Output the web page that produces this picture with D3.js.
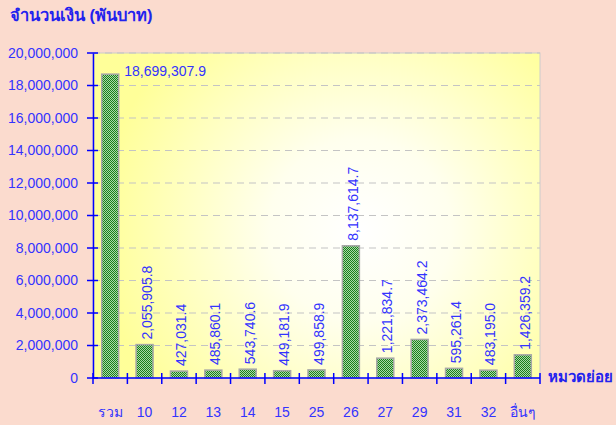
<!DOCTYPE html>
<html><head><meta charset="utf-8">
<script src="https://cdn.jsdelivr.net/npm/d3@7"></script>
<style>
html,body{margin:0;padding:0;background:#fbdbce;}
svg{display:block;}
text{font-family:"Liberation Sans","Noto Sans",Tahoma,sans-serif;}
</style></head><body>
<svg id="c" width="616" height="425"></svg>
<script>
const categories = ["รวม","10","12","13","14","15","25","26","27","29","31","32","อื่นๆ"];
const values = [18699307.9,2055905.8,427031.4,485860.1,543740.6,449181.9,499858.9,8137614.7,1221834.7,2373464.2,595261.4,483195.0,1426359.2];
const labels = ["18,699,307.9","2,055,905.8","427,031.4","485,860.1","543,740.6","449,181.9","499,858.9","8,137,614.7","1,221,834.7","2,373,464.2","595,261.4","483,195.0","1,426,359.2"];
const yTicks = [0,2000000,4000000,6000000,8000000,10000000,12000000,14000000,16000000,18000000,20000000];
const title = "จำนวนเงิน (พันบาท)";
const xTitle = "หมวดย่อย";

const svg = d3.select("#c");
const L = 93, R = 540, T = 53, B = 378;
const blue = "#3333ff";

const xb = d3.scaleBand().domain(categories).range([L, R]);
const y = d3.scaleLinear().domain([0, 20000000]).range([B, T]);

const defs = svg.append("defs");
const rg = defs.append("radialGradient").attr("id","bg").attr("gradientUnits","userSpaceOnUse")
  .attr("cx", 360).attr("cy", 230).attr("r", 260);
rg.append("stop").attr("offset","0%").attr("stop-color","#ffffff");
rg.append("stop").attr("offset","35%").attr("stop-color","#ffffee");
rg.append("stop").attr("offset","100%").attr("stop-color","#ffff99");
const pat = defs.append("pattern").attr("id","chk").attr("patternUnits","userSpaceOnUse").attr("width",2).attr("height",2);
pat.append("rect").attr("width",2).attr("height",2).attr("fill","#a8d8a8");
pat.append("rect").attr("width",1).attr("height",1).attr("fill","#1a801a");
pat.append("rect").attr("x",1).attr("y",1).attr("width",1).attr("height",1).attr("fill","#1a801a");

svg.append("rect").attr("x",L).attr("y",T).attr("width",R-L).attr("height",B-T)
  .attr("fill","url(#bg)").attr("stroke","#cccccc").attr("stroke-width",1);

// gridlines
svg.append("g").selectAll("line").data(yTicks.filter(d=>d>0)).join("line")
  .attr("x1",L).attr("x2",R).attr("y1",d=>y(d)).attr("y2",d=>y(d))
  .attr("stroke","#c4c4c4").attr("stroke-dasharray","7,5").attr("stroke-width",1.2);

// bars
svg.append("g").selectAll("rect").data(values).join("rect")
  .attr("x",(d,i)=>xb(categories[i]) + xb.bandwidth()/2 - 8.5)
  .attr("width",17)
  .attr("y",d=>y(d))
  .attr("height",d=>B-y(d))
  .attr("fill","url(#chk)").attr("stroke","#a8a8a8").attr("stroke-width",1.5);

// value labels
const lg = svg.append("g").attr("fill",blue).attr("font-size",14);
values.forEach((v,i)=>{
  const cx = xb(categories[i]) + xb.bandwidth()/2;
  if (i===0) {
    lg.append("text").attr("x", cx+14).attr("y", y(v)+2).text(labels[i]);
  } else {
    lg.append("text").attr("transform",`translate(${cx+7},${y(v)-5}) rotate(-90)`)
      .attr("text-anchor","start").text(labels[i]);
  }
});

// y axis
const ya = svg.append("g").attr("transform",`translate(${L},0)`)
  .call(d3.axisLeft(y).tickValues(yTicks).tickSize(0).tickPadding(15).tickFormat(d3.format(",")));
ya.select(".domain").attr("stroke","#0000ff").attr("stroke-width",1.5);
ya.selectAll("text").attr("fill",blue).attr("font-size",14).attr("font-family","Liberation Sans, sans-serif");
svg.append("g").selectAll("line").data(yTicks).join("line")
  .attr("x1",L-6).attr("x2",L+5).attr("y1",d=>y(d)).attr("y2",d=>y(d))
  .attr("stroke","#0000ff").attr("stroke-width",1.5);

// x axis
svg.append("line").attr("x1",L).attr("x2",R).attr("y1",B).attr("y2",B).attr("stroke","#0000ff").attr("stroke-width",1.5);
const xt = categories.map(c=>xb(c)).concat([R]);
svg.append("g").selectAll("line").data(xt).join("line")
  .attr("x1",d=>d).attr("x2",d=>d).attr("y1",B-5).attr("y2",B+6)
  .attr("stroke","#0000ff").attr("stroke-width",1.5);
svg.append("g").selectAll("text").data(categories).join("text")
  .attr("x",d=>xb(d)+xb.bandwidth()/2).attr("y",417)
  .attr("text-anchor","middle").attr("fill",blue).attr("font-size",14).text(d=>d);

svg.append("text").attr("x",10).attr("y",21).attr("fill","#2222ee").attr("font-size",16.5).attr("font-weight","bold").text(title);
svg.append("text").attr("x",548).attr("y",382).attr("fill","#2222ee").attr("font-size",15).attr("font-weight","bold").text(xTitle);
</script>
</body></html>
